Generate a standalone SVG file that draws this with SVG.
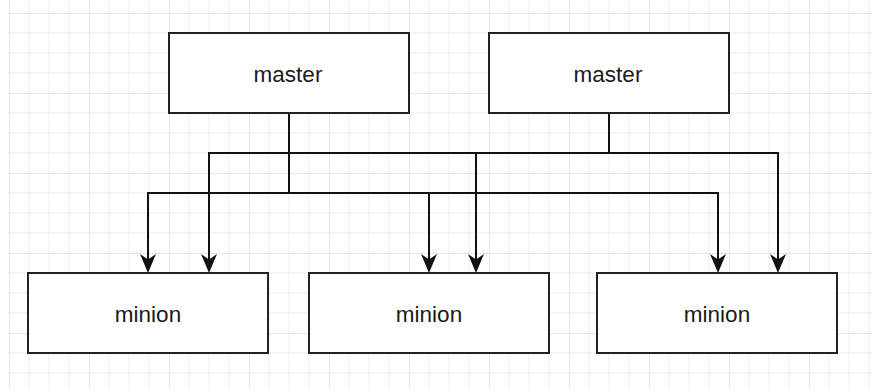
<svg xmlns="http://www.w3.org/2000/svg" width="872" height="390" viewBox="0 0 872 390">
  <style>
    .box { fill: #ffffff; stroke: #222222; stroke-width: 2; }
    .lbl { font-family: "Liberation Sans", Arial, sans-serif; font-size: 22.5px; fill: #1a1a1a; text-anchor: middle; }
    .edge { fill: none; stroke: #111111; stroke-width: 2; }
    .head { fill: #111111; stroke: none; }
  </style>
  <defs>
    <pattern id="grid" patternUnits="userSpaceOnUse" x="9" y="13" width="80" height="80">
      <path d="M20 0V80M40 0V80M60 0V80M0 20H80M0 40H80M0 60H80" stroke="#ececec" stroke-width="1" fill="none"/>
      <path d="M0 0V80M0 0H80" stroke="#dedede" stroke-width="1.5" fill="none"/>
    </pattern>
    <path id="ah" class="head" d="M0 0 L-8 -19 L0 -13.5 L8 -19 Z"/>
  </defs>
  <rect x="0" y="0" width="872" height="390" fill="#ffffff"/>
  <rect x="8" y="0" width="864" height="390" fill="url(#grid)"/>

  <g id="connectors">
    <path class="edge" d="M289 113 V193 H148 V262"/>
    <path class="edge" d="M289 113 V193 H429 V262"/>
    <path class="edge" d="M289 113 V193 H718 V262"/>
    <path class="edge" d="M609 113 V153 H209 V262"/>
    <path class="edge" d="M609 113 V153 H476 V262"/>
    <path class="edge" d="M609 113 V153 H778 V262"/>
    <use href="#ah" x="148" y="273"/>
    <use href="#ah" x="429" y="273"/>
    <use href="#ah" x="718" y="273"/>
    <use href="#ah" x="209" y="273"/>
    <use href="#ah" x="476" y="273"/>
    <use href="#ah" x="778" y="273"/>
  </g>

  <g id="master1">
    <rect class="box" x="169" y="33" width="240" height="80"/>
    <text class="lbl" x="288" y="81.5">master</text>
  </g>
  <g id="master2">
    <rect class="box" x="489" y="33" width="240" height="80"/>
    <text class="lbl" x="608" y="81.5">master</text>
  </g>
  <g id="minion1">
    <rect class="box" x="28" y="273" width="240" height="80"/>
    <text class="lbl" x="148" y="321.5">minion</text>
  </g>
  <g id="minion2">
    <rect class="box" x="309" y="273" width="240" height="80"/>
    <text class="lbl" x="429" y="321.5">minion</text>
  </g>
  <g id="minion3">
    <rect class="box" x="597" y="273" width="240" height="80"/>
    <text class="lbl" x="717" y="321.5">minion</text>
  </g>
</svg>
